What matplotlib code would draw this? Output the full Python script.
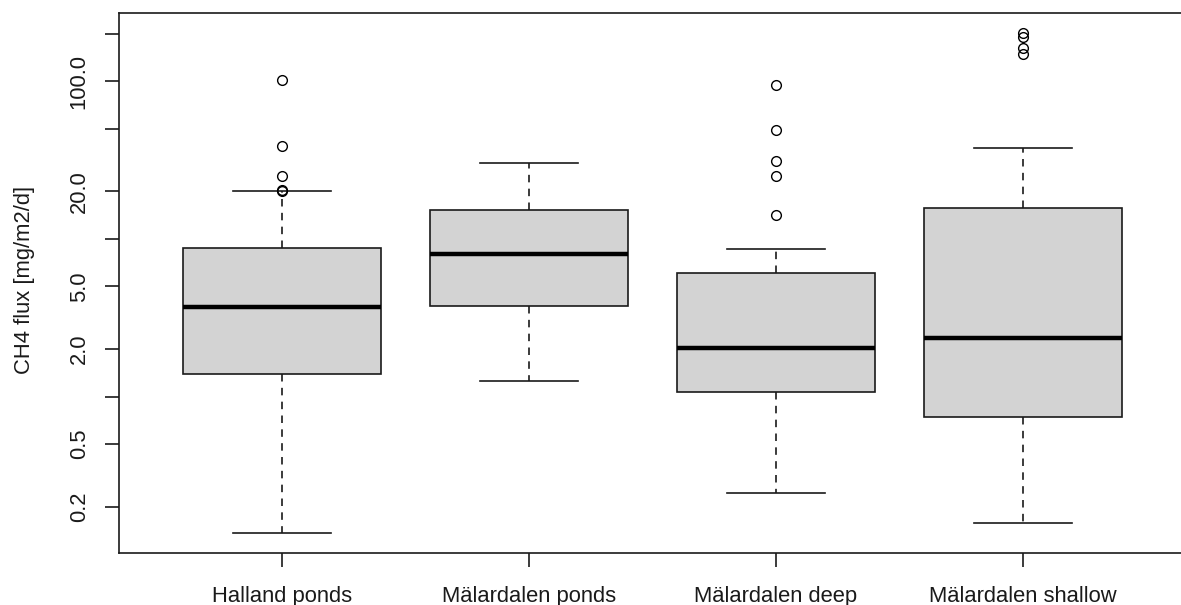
import matplotlib.pyplot as plt
from matplotlib.ticker import FixedLocator, NullLocator

plt.rcParams['font.family'] = ['Liberation Sans', 'DejaVu Sans']

# five-number summaries per site group (mg/m2/d)
groups = ['Halland ponds', 'Mälardalen ponds', 'Mälardalen deep', 'Mälardalen shallow']
whisker_low = [0.137, 1.26, 0.246, 0.159]
q1 = [1.39, 3.77, 1.07, 0.746]
median = [3.72, 7.96, 2.03, 2.36]
q3 = [8.8, 15.2, 6.05, 15.6]
whisker_high = [20.0, 30.2, 8.6, 37.6]
outliers = [
    [101.0, 38.9, 25.0, 20.5, 20.2],
    [],
    [93.8, 48.6, 31.0, 25.0, 14.2],
    [202.0, 189.0, 161.0, 149.0],
]

yticks = [0.2, 0.5, 1, 2, 5, 10, 20, 50, 100, 200]
ytick_labels = ['0.2', '0.5', '', '2.0', '5.0', '', '20.0', '', '100.0', '']

stats = []
for i in range(len(groups)):
    stats.append(dict(label=groups[i], whislo=whisker_low[i], q1=q1[i],
                      med=median[i], q3=q3[i], whishi=whisker_high[i],
                      fliers=outliers[i]))

W, H = 1181, 605
fig = plt.figure(figsize=(W / 100, H / 100), dpi=100)
# plot region: left 119px, top 13px, bottom 553px; runs past the right edge
x0, x1 = 0.34, 4.66
unit = 247
ax = fig.add_axes([119 / W, (H - 553) / H, (x1 - x0) * unit / W, 540 / H])

ax.bxp(stats, positions=range(1, len(groups) + 1), widths=0.8,
       patch_artist=True, showfliers=True,
       boxprops=dict(facecolor='#d3d3d3', edgecolor='#1a1a1a', linewidth=1.2),
       medianprops=dict(color='black', linewidth=3.2, solid_capstyle='butt'),
       whiskerprops=dict(color='#1a1a1a', linewidth=1.2, linestyle=(0, (4.5, 3.8))),
       capprops=dict(color='#1a1a1a', linewidth=1.2),
       capwidths=0.4,
       flierprops=dict(marker='o', markerfacecolor='none', markeredgecolor='black',
                       markersize=7, markeredgewidth=1.0))

ax.set_yscale('log')
ax.set_ylim(0.102, 270)
ax.set_xlim(x0, x1)
ax.yaxis.set_major_locator(FixedLocator(yticks))
ax.set_yticklabels(ytick_labels, rotation=90, va='center', fontsize=15.8, color='#1a1a1a')
ax.yaxis.set_minor_locator(NullLocator())
ax.set_xticks(range(1, len(groups) + 1))
ax.set_xticklabels(groups, fontsize=15.8, color='#1a1a1a')

ax.tick_params(axis='both', direction='out', length=10, width=1.2, color='#1a1a1a')
ax.tick_params(axis='y', pad=11)
ax.tick_params(axis='x', pad=14)
for s in ax.spines.values():
    s.set_linewidth(1.2)
    s.set_color('#1a1a1a')

fig.text(25 / W, 1 - 280 / H, 'CH4 flux [mg/m2/d]', rotation=90, ha='center',
         va='center', fontsize=15.8, color='#1a1a1a')

fig.savefig('out.png', dpi=100)
